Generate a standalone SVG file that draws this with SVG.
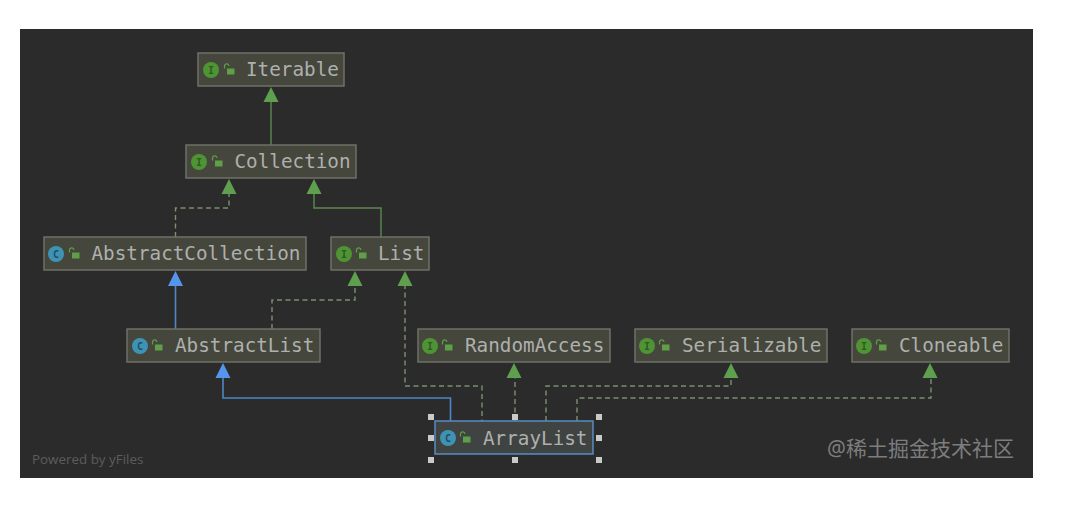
<svg xmlns="http://www.w3.org/2000/svg" width="1072" height="509" viewBox="0 0 1072 509">
  <style>
    .box { fill: #45463c; stroke: #6f7067; stroke-width: 1.5; }
    .sel { fill: #3f4341; stroke: #5a8cc4; stroke-width: 1.5; }
    .name { font-family: "DejaVu Sans Mono", "Liberation Mono", monospace; font-size: 19.3px; fill: #aeb0ae; }
    .badge { font-family: "DejaVu Sans Mono", monospace; font-size: 10px; font-weight: bold; text-anchor: middle; }
    .green { fill: none; stroke: #5b8a50; stroke-width: 1.4; }
    .dash { fill: none; stroke: #7d8f70; stroke-width: 1.4; stroke-dasharray: 5 3.500; }
    .blue { fill: none; stroke: #4f86c6; stroke-width: 1.6; }
    .hg { fill: #5fa04e; }
    .hb { fill: #5596ea; }
    .ic-i { fill: #4f9434; }
    .ic-c { fill: #3e93b4; }
    .lock { fill: #5f9f48; }
    .shackle { fill: none; stroke: #5f9f48; stroke-width: 1.2; }
    .h { fill: #c9c9c6; }
  </style>
  <defs>
    <g id="lock">
      <path class="shackle" d="M-4.500 -1.500 v-2.500 a2.200 2.200 0 0 1 4.400 0"/>
      <rect class="lock" x="-2" y="-1.500" width="7.500" height="6"/>
    </g>
  </defs>
  <rect width="1072" height="509" fill="#ffffff"/>
  <rect x="20" y="29" width="1013" height="449" fill="#2b2b2b"/>

  <!-- inheritance edges, drawn under the class boxes -->
  <g id="connectors">
    <path class="green" d="M271 145V100"/>
    <path class="hg" d="M271 87l7.500 15h-15z"/>
    <path class="dash" d="M175.500 237V208H229V192"/>
    <path class="hg" d="M229 179l7.500 15h-15z"/>
    <path class="green" d="M381 237V208H314V192"/>
    <path class="hg" d="M314 179l7.500 15h-15z"/>
    <path class="blue" d="M175.500 329V284"/>
    <path class="hb" d="M175.500 271l7.500 15h-15z"/>
    <path class="dash" d="M272 329V300H355V284"/>
    <path class="hg" d="M355 271l7.500 15h-15z"/>
    <path class="dash" d="M405 284V386H482V421"/>
    <path class="hg" d="M405 271l7.500 15h-15z"/>
    <path class="dash" d="M515 421V376"/>
    <path class="hg" d="M514 363l7.500 15h-15z"/>
    <path class="dash" d="M546 421V386H731V376"/>
    <path class="hg" d="M731 363l7.500 15h-15z"/>
    <path class="dash" d="M577 421V398H931V376"/>
    <path class="hg" d="M930 363l7.500 15h-15z"/>
    <path class="blue" d="M450.500 421V398H223V376"/>
    <path class="hb" d="M223 363l7.500 15h-15z"/>
  </g>

  <g id="iterable">
    <rect class="box" x="198" y="53" width="146" height="33"/>
    <circle class="ic-i" cx="211" cy="70" r="8"/><text class="badge" x="211" y="73.500" fill="#2f5a22">I</text>
    <use href="#lock" x="229" y="70"/>
    <text class="name" x="246" y="76">Iterable</text>
  </g>
  <g id="collection">
    <rect class="box" x="186" y="145" width="170" height="33"/>
    <circle class="ic-i" cx="199" cy="162" r="8"/><text class="badge" x="199" y="165.500" fill="#2f5a22">I</text>
    <use href="#lock" x="217" y="162"/>
    <text class="name" x="234.500" y="168">Collection</text>
  </g>
  <g id="abstract-collection">
    <rect class="box" x="44" y="237" width="262" height="33"/>
    <circle class="ic-c" cx="56" cy="254" r="8"/><text class="badge" x="56" y="257.500" fill="#1d4f66">C</text>
    <use href="#lock" x="74" y="254"/>
    <text class="name" x="91.500" y="260">AbstractCollection</text>
  </g>
  <g id="list">
    <rect class="box" x="331" y="237" width="98" height="33"/>
    <circle class="ic-i" cx="344" cy="254" r="8"/><text class="badge" x="344" y="257.500" fill="#2f5a22">I</text>
    <use href="#lock" x="361" y="254"/>
    <text class="name" x="378" y="260">List</text>
  </g>
  <g id="abstract-list">
    <rect class="box" x="127" y="329" width="193" height="33"/>
    <circle class="ic-c" cx="140" cy="346" r="8"/><text class="badge" x="140" y="349.500" fill="#1d4f66">C</text>
    <use href="#lock" x="157" y="346"/>
    <text class="name" x="175" y="352">AbstractList</text>
  </g>
  <g id="random-access">
    <rect class="box" x="418" y="329" width="192" height="33"/>
    <circle class="ic-i" cx="430" cy="346" r="8"/><text class="badge" x="430" y="349.500" fill="#2f5a22">I</text>
    <use href="#lock" x="447" y="346"/>
    <text class="name" x="465" y="352">RandomAccess</text>
  </g>
  <g id="serializable">
    <rect class="box" x="635" y="329" width="192" height="33"/>
    <circle class="ic-i" cx="647" cy="346" r="8"/><text class="badge" x="647" y="349.500" fill="#2f5a22">I</text>
    <use href="#lock" x="664" y="346"/>
    <text class="name" x="682" y="352">Serializable</text>
  </g>
  <g id="cloneable">
    <rect class="box" x="852" y="329" width="157" height="33"/>
    <circle class="ic-i" cx="864" cy="346" r="8"/><text class="badge" x="864" y="349.500" fill="#2f5a22">I</text>
    <use href="#lock" x="881" y="346"/>
    <text class="name" x="899" y="352">Cloneable</text>
  </g>
  <g id="array-list">
    <rect class="sel" x="435" y="421" width="158" height="33"/>
    <circle class="ic-c" cx="448" cy="438" r="8"/><text class="badge" x="448" y="441.500" fill="#1d4f66">C</text>
    <use href="#lock" x="465" y="438"/>
    <text class="name" x="483" y="445">ArrayList</text>
    <rect class="h" x="428" y="414" width="6" height="6"/>
    <rect class="h" x="512" y="414" width="6" height="6"/>
    <rect class="h" x="596" y="414" width="6" height="6"/>
    <rect class="h" x="428" y="435" width="6" height="6"/>
    <rect class="h" x="596" y="435" width="6" height="6"/>
    <rect class="h" x="428" y="457" width="6" height="6"/>
    <rect class="h" x="512" y="457" width="6" height="6"/>
    <rect class="h" x="596" y="457" width="6" height="6"/>
  </g>

  <text x="32" y="464" font-family="'Open Sans', 'Noto Sans', sans-serif" font-size="13.400" fill="#5c5c5c">Powered by yFiles</text>
  <text x="827" y="456" font-family="'Noto Sans', 'Noto Sans CJK SC', sans-serif" font-size="21" fill="#7d7d7d">@稀土掘金技术社区</text>
</svg>
